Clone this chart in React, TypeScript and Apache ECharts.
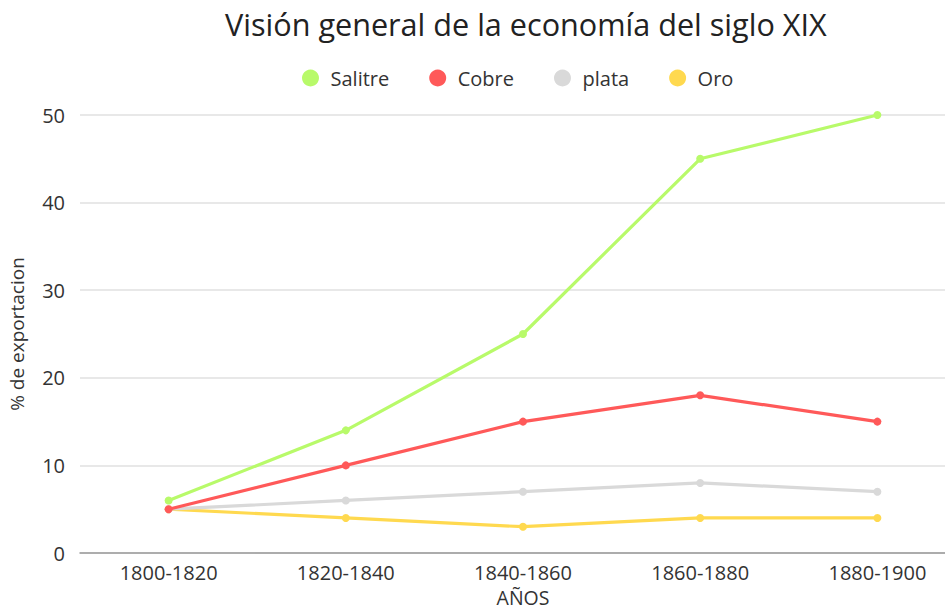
import React, { useEffect, useRef } from "react";
import * as echarts from "echarts";

const categories = ["1800-1820", "1820-1840", "1840-1860", "1860-1880", "1880-1900"];
const salitre = [6, 14, 25, 45, 50];
const cobre = [5, 10, 15, 18, 15];
const plata = [5, 6, 7, 8, 7];
const oro = [5, 4, 3, 4, 4];
const seriesNames = ["Salitre", "Cobre", "plata", "Oro"];
const colors = ["#b8fa6a", "#ff5959", "#d9d9d9", "#ffd94f"];

const FONT = "'Open Sans', 'Noto Sans', sans-serif";

export default function App() {
  const ref = useRef<HTMLDivElement>(null);
  useEffect(() => {
    if (!ref.current) return;
    const chart = echarts.init(ref.current, null, { renderer: "svg" });
    const data = [salitre, cobre, plata, oro];
    chart.setOption({
      animation: false,
      textStyle: { fontFamily: FONT },
      title: {
        text: "Visión general de la economía del siglo XIX",
        left: 220,
        top: 3,
        textStyle: { fontSize: 30.6, fontWeight: "normal", color: "#222", fontFamily: FONT },
      },
      legend: {
        top: 63,
        left: 297,
        icon: "circle",
        itemWidth: 30,
        itemHeight: 17,
        itemGap: 40,
        textStyle: { fontSize: 20, color: "#333", fontFamily: FONT },
        data: seriesNames,
      },
      grid: { left: 80, width: 886, top: 115, bottom: 56, outerBoundsMode: "none" },
      xAxis: {
        type: "category",
        data: categories,
        boundaryGap: true,
        name: "AÑOS",
        nameLocation: "middle",
        nameGap: 34,
        nameTextStyle: { fontSize: 19.5, color: "#333", fontFamily: FONT },
        axisLine: { lineStyle: { color: "#999", width: 1.5 } },
        axisTick: { show: false },
        axisLabel: { fontSize: 20, color: "#333", margin: 9, fontFamily: FONT },
      },
      yAxis: {
        type: "value",
        min: 0,
        max: 50,
        interval: 10,
        name: "% de exportacion",
        nameLocation: "middle",
        nameGap: 54,
        nameTextStyle: { fontSize: 19, color: "#333", fontFamily: FONT },
        axisLine: { show: false },
        axisTick: { show: false },
        axisLabel: { fontSize: 20, color: "#333", margin: 15, fontFamily: FONT },
        splitLine: { lineStyle: { color: "#e0e0e0", width: 1.5 } },
      },
      series: seriesNames.map((n, i) => ({
        name: n,
        type: "line",
        data: data[i],
        symbol: "circle",
        symbolSize: 8,
        lineStyle: { width: 3.2, color: colors[i] },
        itemStyle: { color: colors[i] },
        z: 10 - i,
      })),
    });
    return () => chart.dispose();
  }, []);
  return <div ref={ref} style={{ width: 945, height: 609, position: "absolute", left: 0, top: 0 }} />;
}
